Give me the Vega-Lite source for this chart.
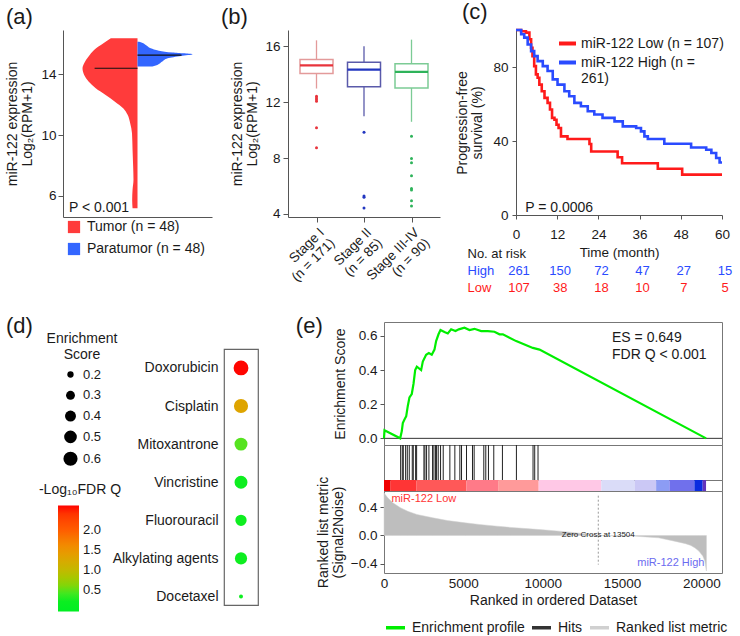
{
"$schema": "https://vega.github.io/schema/vega-lite/v6.json",
"background": "white",
"padding": {"left": 5, "top": 0, "right": 2, "bottom": 2},
"config": {
 "font": "Liberation Sans",
 "view": {"stroke": null},
 "axis": {"grid": false, "labelOverlap": false, "labelFlush": false, "labelFont": "Liberation Sans", "titleFont": "Liberation Sans", "labelFontSize": 13.5, "titleFontSize": 14, "titleFontWeight": "normal", "labelColor": "#1a1a1a", "titleColor": "#1a1a1a", "domainColor": "#555", "tickColor": "#555", "tickSize": 5, "labelPadding": 3, "titlePadding": 5, "titleLineHeight": 15},
 "legend": {"labelFont": "Liberation Sans", "titleFont": "Liberation Sans", "labelFontSize": 14, "titleFontSize": 14, "titleFontWeight": "normal", "labelColor": "#1a1a1a", "titleColor": "#1a1a1a"},
 "title": {"font": "Liberation Sans", "fontSize": 22, "fontWeight": "normal", "anchor": "start", "frame": "bounds", "color": "#1a1a1a", "offset": 1},
 "text": {"font": "Liberation Sans", "color": "#1a1a1a"}
},
"spacing": 18,
"bounds": "full",
"resolve": {"scale": {"color": "independent", "stroke": "independent", "size": "independent"}, "legend": {"color": "independent", "stroke": "independent", "size": "independent"}},
"vconcat": [
 {
  "spacing": 76, "bounds": "flush",
  "resolve": {"scale": {"color": "independent", "stroke": "independent", "size": "independent"}, "legend": {"color": "independent", "stroke": "independent", "size": "independent"}},
  "hconcat": [
   {
    "title": {"text": "(a)"},
    "width": 149, "height": 187,
    "layer": [
     {
      "data": {"values": [
       {"group": "Tumor (n = 48)", "value": 16.37, "density": -0.485},
       {"group": "Tumor (n = 48)", "value": 16.04, "density": -0.62},
       {"group": "Tumor (n = 48)", "value": 15.6, "density": -0.79},
       {"group": "Tumor (n = 48)", "value": 15.17, "density": -0.89},
       {"group": "Tumor (n = 48)", "value": 14.73, "density": -0.97},
       {"group": "Tumor (n = 48)", "value": 14.4, "density": -1.0},
       {"group": "Tumor (n = 48)", "value": 13.96, "density": -0.97},
       {"group": "Tumor (n = 48)", "value": 13.52, "density": -0.89},
       {"group": "Tumor (n = 48)", "value": 13.08, "density": -0.76},
       {"group": "Tumor (n = 48)", "value": 12.64, "density": -0.58},
       {"group": "Tumor (n = 48)", "value": 12.2, "density": -0.41},
       {"group": "Tumor (n = 48)", "value": 11.77, "density": -0.26},
       {"group": "Tumor (n = 48)", "value": 11.33, "density": -0.18},
       {"group": "Tumor (n = 48)", "value": 10.78, "density": -0.133},
       {"group": "Tumor (n = 48)", "value": 10.12, "density": -0.1},
       {"group": "Tumor (n = 48)", "value": 9.03, "density": -0.09},
       {"group": "Tumor (n = 48)", "value": 7.93, "density": -0.079},
       {"group": "Tumor (n = 48)", "value": 7.05, "density": -0.073},
       {"group": "Tumor (n = 48)", "value": 6.4, "density": -0.09},
       {"group": "Tumor (n = 48)", "value": 5.74, "density": -0.097},
       {"group": "Tumor (n = 48)", "value": 5.17, "density": -0.09},
       {"group": "Paratumor (n = 48)", "value": 16.14, "density": 0.03},
       {"group": "Paratumor (n = 48)", "value": 16.11, "density": 0.06},
       {"group": "Paratumor (n = 48)", "value": 15.93, "density": 0.15},
       {"group": "Paratumor (n = 48)", "value": 15.72, "density": 0.24},
       {"group": "Paratumor (n = 48)", "value": 15.56, "density": 0.39},
       {"group": "Paratumor (n = 48)", "value": 15.43, "density": 0.64},
       {"group": "Paratumor (n = 48)", "value": 15.32, "density": 1.0},
       {"group": "Paratumor (n = 48)", "value": 15.21, "density": 0.79},
       {"group": "Paratumor (n = 48)", "value": 15.06, "density": 0.55},
       {"group": "Paratumor (n = 48)", "value": 14.84, "density": 0.45},
       {"group": "Paratumor (n = 48)", "value": 14.62, "density": 0.36},
       {"group": "Paratumor (n = 48)", "value": 14.51, "density": 0.27}
      ]},
      "mark": {"type": "area", "orient": "horizontal", "interpolate": "monotone"},
      "encoding": {
       "y": {"field": "value", "type": "quantitative", "scale": {"domain": [4.6, 16.92], "nice": false, "zero": false}, "axis": {"values": [6, 8, 10, 12, 14, 16], "title": ["miR-122 expression", "Log₂(RPM+1)"], "titlePadding": 6, "labelPadding": 2}},
       "x": {"field": "density", "type": "quantitative", "scale": {"domain": [-1.355, 1.355], "nice": false}, "axis": {"title": null, "labels": false, "ticks": false}},
       "x2": {"datum": 0},
       "color": {"field": "group", "type": "nominal", "scale": {"domain": ["Tumor (n = 48)", "Paratumor (n = 48)"], "range": ["#FF3B3B", "#3366FF"]},
        "legend": {"title": null, "orient": "none", "legendX": 4, "legendY": 190, "symbolType": "square", "symbolSize": 150, "symbolStrokeWidth": 0, "labelOffset": 6, "rowPadding": 8, "labelFontSize": 14}}
      }
     },
     {
      "data": {"values": [{"value": 14.4, "left": -0.78, "right": 0}, {"value": 15.27, "left": 0, "right": 0.8}]},
      "mark": {"type": "rule", "color": "#111", "strokeWidth": 1.2},
      "encoding": {"y": {"field": "value", "type": "quantitative"}, "x": {"field": "left", "type": "quantitative"}, "x2": {"field": "right"}}
     },
     {
      "data": {"values": [{"label": "P < 0.001"}]},
      "mark": {"type": "text", "align": "left", "baseline": "middle", "fontSize": 14},
      "encoding": {"text": {"field": "label"}, "x": {"datum": -1.245}, "y": {"datum": 5.21}}
     }
    ]
   },
   {
    "title": {"text": "(b)", "dx": -10},
    "width": 152, "height": 187,
    "layer": [
     {
      "data": {"name": "boxes", "values": [
       {"stage": "Stage I|(n = 171)", "lower": 12.98, "q1": 14.05, "median": 14.64, "q3": 15.05, "upper": 16.43},
       {"stage": "Stage II|(n = 85)", "lower": 11.0, "q1": 13.1, "median": 14.33, "q3": 14.86, "upper": 16.0},
       {"stage": "Stage III-IV|(n = 90)", "lower": 10.6, "q1": 13.02, "median": 14.17, "q3": 14.76, "upper": 16.48}
      ]},
      "mark": {"type": "rule", "strokeWidth": 1.3},
      "encoding": {
       "x": {"field": "stage", "type": "nominal", "scale": {"type": "point", "padding": 0.6, "domain": ["Stage I|(n = 171)", "Stage II|(n = 85)", "Stage III-IV|(n = 90)"]},
        "axis": {"title": null, "labelExpr": "split(datum.label, '|')", "labelAngle": -45, "labelAlign": "right", "labelBaseline": "top", "labelFontSize": 13.5, "labelLineHeight": 15, "labelPadding": 3}},
       "y": {"field": "lower", "type": "quantitative", "scale": {"domain": [3.785, 17.17], "nice": false, "zero": false}, "axis": {"values": [4, 8, 12, 16], "title": ["miR-122 expression", "Log₂(RPM+1)"], "titlePadding": 5}},
       "y2": {"field": "upper"},
       "stroke": {"field": "stage", "type": "nominal", "scale": {"domain": ["Stage I|(n = 171)", "Stage II|(n = 85)", "Stage III-IV|(n = 90)"], "range": ["#E39A9A", "#5A5AAA", "#7CCB95"]}, "legend": null}
      }
     },
     {
      "data": {"name": "boxes"},
      "mark": {"type": "bar", "width": 33, "fill": "white", "strokeWidth": 1.5},
      "encoding": {
       "x": {"field": "stage", "type": "nominal"},
       "y": {"field": "q1", "type": "quantitative"},
       "y2": {"field": "q3"},
       "stroke": {"field": "stage", "type": "nominal", "legend": null}
      }
     },
     {
      "data": {"name": "boxes"},
      "mark": {"type": "tick", "size": 33, "thickness": 2.2, "opacity": 1},
      "encoding": {
       "x": {"field": "stage", "type": "nominal"},
       "y": {"field": "median", "type": "quantitative"},
       "color": {"field": "stage", "type": "nominal", "scale": {"domain": ["Stage I|(n = 171)", "Stage II|(n = 85)", "Stage III-IV|(n = 90)"], "range": ["#E8343C", "#2236C0", "#2EB35A"]}, "legend": null}
      }
     },
     {
      "data": {"values": [
       {"stage": "Stage I|(n = 171)", "value": 12.43}, {"stage": "Stage I|(n = 171)", "value": 12.31}, {"stage": "Stage I|(n = 171)", "value": 12.19}, {"stage": "Stage I|(n = 171)", "value": 12.07}, {"stage": "Stage I|(n = 171)", "value": 10.17}, {"stage": "Stage I|(n = 171)", "value": 8.74},
       {"stage": "Stage II|(n = 85)", "value": 9.86}, {"stage": "Stage II|(n = 85)", "value": 5.29}, {"stage": "Stage II|(n = 85)", "value": 5.19}, {"stage": "Stage II|(n = 85)", "value": 4.43},
       {"stage": "Stage III-IV|(n = 90)", "value": 9.57}, {"stage": "Stage III-IV|(n = 90)", "value": 7.98}, {"stage": "Stage III-IV|(n = 90)", "value": 7.67}, {"stage": "Stage III-IV|(n = 90)", "value": 6.74}, {"stage": "Stage III-IV|(n = 90)", "value": 5.83}, {"stage": "Stage III-IV|(n = 90)", "value": 5.71}, {"stage": "Stage III-IV|(n = 90)", "value": 4.95}, {"stage": "Stage III-IV|(n = 90)", "value": 4.57}
      ]},
      "mark": {"type": "circle", "size": 9, "opacity": 1},
      "encoding": {
       "x": {"field": "stage", "type": "nominal"},
       "y": {"field": "value", "type": "quantitative"},
       "color": {"field": "stage", "type": "nominal", "legend": null}
      }
     }
    ]
   },
   {
    "spacing": 30, "bounds": "flush",
    "resolve": {"scale": {"color": "independent"}, "legend": {"color": "independent"}},
    "vconcat": [
     {
      "title": {"text": "(c)", "dx": 6},
      "width": 206, "height": 185,
      "layer": [
       {
        "data": {"values": [
         {"group": "miR-122 Low (n = 107)", "t": 0, "s": 100}, {"group": "miR-122 Low (n = 107)", "t": 1.5, "s": 99.3}, {"group": "miR-122 Low (n = 107)", "t": 2.9, "s": 98.6}, {"group": "miR-122 Low (n = 107)", "t": 3.9, "s": 95}, {"group": "miR-122 Low (n = 107)", "t": 4.4, "s": 90.4}, {"group": "miR-122 Low (n = 107)", "t": 4.8, "s": 85.9}, {"group": "miR-122 Low (n = 107)", "t": 5.3, "s": 80.5}, {"group": "miR-122 Low (n = 107)", "t": 5.8, "s": 76}, {"group": "miR-122 Low (n = 107)", "t": 6.3, "s": 74.2}, {"group": "miR-122 Low (n = 107)", "t": 6.8, "s": 70.5}, {"group": "miR-122 Low (n = 107)", "t": 7.5, "s": 66.9}, {"group": "miR-122 Low (n = 107)", "t": 8.3, "s": 63.3}, {"group": "miR-122 Low (n = 107)", "t": 9.2, "s": 60.6}, {"group": "miR-122 Low (n = 107)", "t": 9.9, "s": 57}, {"group": "miR-122 Low (n = 107)", "t": 10.5, "s": 52.5}, {"group": "miR-122 Low (n = 107)", "t": 11.2, "s": 51.5}, {"group": "miR-122 Low (n = 107)", "t": 11.8, "s": 48.8}, {"group": "miR-122 Low (n = 107)", "t": 12.4, "s": 47}, {"group": "miR-122 Low (n = 107)", "t": 13.1, "s": 42.5}, {"group": "miR-122 Low (n = 107)", "t": 15.0, "s": 41.1}, {"group": "miR-122 Low (n = 107)", "t": 21.4, "s": 38.4}, {"group": "miR-122 Low (n = 107)", "t": 21.9, "s": 34.3}, {"group": "miR-122 Low (n = 107)", "t": 29.6, "s": 31.2}, {"group": "miR-122 Low (n = 107)", "t": 30.9, "s": 28}, {"group": "miR-122 Low (n = 107)", "t": 41.3, "s": 25}, {"group": "miR-122 Low (n = 107)", "t": 48.4, "s": 21.8}, {"group": "miR-122 Low (n = 107)", "t": 60, "s": 21.8},
         {"group": "miR-122 High (n = 261)", "t": 0, "s": 100}, {"group": "miR-122 High (n = 261)", "t": 1.5, "s": 97.7}, {"group": "miR-122 High (n = 261)", "t": 2.4, "s": 95.9}, {"group": "miR-122 High (n = 261)", "t": 3.4, "s": 92.2}, {"group": "miR-122 High (n = 261)", "t": 4.4, "s": 88.6}, {"group": "miR-122 High (n = 261)", "t": 5.3, "s": 85.9}, {"group": "miR-122 High (n = 261)", "t": 6.3, "s": 83.2}, {"group": "miR-122 High (n = 261)", "t": 7.8, "s": 80.5}, {"group": "miR-122 High (n = 261)", "t": 9.2, "s": 77.8}, {"group": "miR-122 High (n = 261)", "t": 10.7, "s": 73.3}, {"group": "miR-122 High (n = 261)", "t": 12.1, "s": 70.5}, {"group": "miR-122 High (n = 261)", "t": 14.1, "s": 66.9}, {"group": "miR-122 High (n = 261)", "t": 15.5, "s": 64.2}, {"group": "miR-122 High (n = 261)", "t": 17.0, "s": 60.6}, {"group": "miR-122 High (n = 261)", "t": 18.9, "s": 58.8}, {"group": "miR-122 High (n = 261)", "t": 20.9, "s": 56.1}, {"group": "miR-122 High (n = 261)", "t": 22.8, "s": 54.3}, {"group": "miR-122 High (n = 261)", "t": 25.2, "s": 52.5}, {"group": "miR-122 High (n = 261)", "t": 28.7, "s": 50.6}, {"group": "miR-122 High (n = 261)", "t": 31.1, "s": 47.9}, {"group": "miR-122 High (n = 261)", "t": 35, "s": 47}, {"group": "miR-122 High (n = 261)", "t": 36.4, "s": 45.2}, {"group": "miR-122 High (n = 261)", "t": 37.4, "s": 42.5}, {"group": "miR-122 High (n = 261)", "t": 38.4, "s": 41.1}, {"group": "miR-122 High (n = 261)", "t": 43.2, "s": 38.5}, {"group": "miR-122 High (n = 261)", "t": 51, "s": 36.5}, {"group": "miR-122 High (n = 261)", "t": 55.4, "s": 35.3}, {"group": "miR-122 High (n = 261)", "t": 56.9, "s": 33.5}, {"group": "miR-122 High (n = 261)", "t": 58.3, "s": 30.8}, {"group": "miR-122 High (n = 261)", "t": 59.3, "s": 28.4}, {"group": "miR-122 High (n = 261)", "t": 60, "s": 28.4}
        ]},
        "mark": {"type": "line", "interpolate": "step-after", "strokeWidth": 2.6},
        "encoding": {
         "x": {"field": "t", "type": "quantitative", "scale": {"domain": [0, 60], "nice": false}, "axis": {"values": [0, 12, 24, 36, 48, 60], "title": "Time (month)", "tickSize": 4, "labelPadding": 8, "titlePadding": 5, "titleFontSize": 13.5}},
         "y": {"field": "s", "type": "quantitative", "scale": {"domain": [0, 100], "nice": false}, "axis": {"values": [0, 10, 20, 30, 40, 50, 60, 70, 80, 90, 100], "labelExpr": "datum.value % 20 == 0 ? datum.label : ''", "title": ["Progression-free", "survival (%)"], "tickSize": 4, "labelPadding": 4, "titlePadding": 8}},
         "color": {"field": "group", "type": "nominal", "scale": {"domain": ["miR-122 Low (n = 107)", "miR-122 High (n = 261)"], "range": ["#FF1A1A", "#2A4BFF"]},
          "legend": {"title": null, "orient": "none", "legendX": 41, "legendY": 3, "symbolType": "stroke", "symbolStrokeWidth": 4, "symbolSize": 289, "labelOffset": 3, "rowPadding": -2, "labelFontSize": 14, "labelExpr": "datum.label == 'miR-122 High (n = 261)' ? ['miR-122 High (n =', '261)'] : datum.label"}}
        }
       },
       {
        "data": {"values": [{"label": "P = 0.0006"}]},
        "mark": {"type": "text", "align": "left", "baseline": "middle", "fontSize": 14},
        "encoding": {"text": {"field": "label"}, "x": {"datum": 2.7}, "y": {"datum": 3.8}}
       }
      ]
     },
     {
      "width": 206, "height": 51,
      "data": {"values": [
       {"row": "High", "t": 0, "n": 261}, {"row": "High", "t": 12, "n": 150}, {"row": "High", "t": 24, "n": 72}, {"row": "High", "t": 36, "n": 47}, {"row": "High", "t": 48, "n": 27}, {"row": "High", "t": 60, "n": 15},
       {"row": "Low", "t": 0, "n": 107}, {"row": "Low", "t": 12, "n": 38}, {"row": "Low", "t": 24, "n": 18}, {"row": "Low", "t": 36, "n": 10}, {"row": "Low", "t": 48, "n": 7}, {"row": "Low", "t": 60, "n": 5}
      ]},
      "mark": {"type": "text", "fontSize": 13, "dx": 3},
      "encoding": {
       "x": {"field": "t", "type": "quantitative", "scale": {"domain": [0, 60], "nice": false}, "axis": null},
       "y": {"field": "row", "type": "nominal", "scale": {"type": "point", "padding": 0.5, "domain": ["No. at risk", "High", "Low"]},
        "axis": {"title": null, "domain": false, "ticks": false, "tickSize": 0, "labelAlign": "left", "labelPadding": 49, "labelFontSize": 13,
         "labelColor": {"condition": [{"test": "datum.value === 'High'", "value": "#2A4BFF"}, {"test": "datum.value === 'Low'", "value": "#FF1A1A"}], "value": "#1a1a1a"}}},
       "text": {"field": "n", "type": "quantitative"},
       "color": {"field": "row", "type": "nominal", "scale": {"domain": ["High", "Low"], "range": ["#2A4BFF", "#FF1A1A"]}, "legend": null}
      }
     }
    ]
   }
  ]
 },
 {
  "spacing": 160, "bounds": "flush",
  "resolve": {"scale": {"color": "independent", "stroke": "independent", "size": "independent"}, "legend": {"color": "independent", "stroke": "independent", "size": "independent"}},
  "hconcat": [
   {
    "width": 1, "height": 10,
    "data": {"values": [{"k": 1}]},
    "mark": {"type": "point", "opacity": 0},
    "encoding": {}
   },
   {
    "title": {"text": "(d)", "dx": -33, "dy": 17},
    "spacing": 0, "bounds": "flush",
    "vconcat": [
     {
      "width": 34, "height": 27,
      "data": {"values": [{"k": 1}]},
      "mark": {"type": "point", "opacity": 0},
      "encoding": {}
     },
     {
      "width": 34, "height": 256,
      "view": {"stroke": "#666", "strokeWidth": 1.2},
      "data": {"values": [
       {"drug": "Doxorubicin", "es": 0.649, "q": 2.6},
       {"drug": "Cisplatin", "es": 0.6, "q": 1.3},
       {"drug": "Mitoxantrone", "es": 0.52, "q": 0.45},
       {"drug": "Vincristine", "es": 0.52, "q": 0.3},
       {"drug": "Fluorouracil", "es": 0.42, "q": 0.3},
       {"drug": "Alkylating agents", "es": 0.47, "q": 0.3},
       {"drug": "Docetaxel", "es": 0.14, "q": 0.3}
      ]},
      "mark": {"type": "circle", "opacity": 1},
      "encoding": {
       "y": {"field": "drug", "type": "nominal", "sort": null, "scale": {"type": "point", "padding": 0.36, "align": 0.69}, "axis": {"title": null, "domain": false, "ticks": false, "labelFontSize": 14, "labelPadding": 6}},
       "size": {"field": "es", "type": "quantitative", "scale": {"domain": [0.1, 0.65], "range": [0, 220]},
        "legend": {"title": ["Enrichment", "Score"], "values": [0.2, 0.3, 0.4, 0.5, 0.6], "format": ".1f", "orient": "none", "legendX": -177, "legendY": 9.5, "symbolFillColor": "#000", "symbolStrokeColor": "#000", "symbolStrokeWidth": 0, "symbolType": "circle", "titleAlign": "center", "titleAnchor": "middle", "titleLineHeight": 16, "labelFontSize": 13, "rowPadding": 6.8, "labelOffset": 5, "titlePadding": 6.5}},
       "color": {"field": "q", "type": "quantitative", "scale": {"domain": [-0.05, 0.35, 0.5, 1.0, 1.5, 2.0, 2.61], "range": ["#00EE22", "#10EE20", "#66DD22", "#C4B800", "#EE9400", "#FF5C00", "#FF0000"]},
        "legend": {"title": "-Log₁₀FDR Q", "values": [0.5, 1, 1.5, 2], "format": ".1f", "orient": "none", "legendX": -185, "legendY": 160.5, "direction": "vertical", "gradientLength": 106, "gradientThickness": 21, "gradientStrokeWidth": 0, "titleAlign": "center", "titleAnchor": "middle", "labelFontSize": 13, "labelOffset": 4, "titlePadding": 9}}
      }
     }
    ]
   },
   {
    "title": {"text": "(e)", "dx": -20, "dy": 17},
    "spacing": 0, "bounds": "flush",
    "vconcat": [
     {
      "width": 338, "height": 123,
      "view": {"stroke": "#777"},
      "layer": [
       {
        "data": {"values": [{"k": 0}]},
        "mark": {"type": "rule", "color": "#333", "strokeWidth": 1},
        "encoding": {"y": {"datum": 0, "type": "quantitative", "scale": {"domain": [-0.039, 0.682], "nice": false, "zero": false},
         "axis": {"values": [0, 0.1, 0.2, 0.3, 0.4, 0.5, 0.6], "labelExpr": "indexof(['0.0','0.2','0.4','0.6'], format(datum.value, '.1f')) >= 0 ? format(datum.value, '.1f') : ''", "title": "Enrichment Score", "domain": false, "tickSize": 4, "labelPadding": 3, "titlePadding": 11}}}
       },
       {
        "data": {"values": [
         {"rank": 0, "es": 0.0}, {"rank": 30, "es": 0.047}, {"rank": 1020, "es": 0.0}, {"rank": 1122, "es": 0.043}, {"rank": 1185, "es": 0.09}, {"rank": 1290, "es": 0.11}, {"rank": 1400, "es": 0.13}, {"rank": 1500, "es": 0.19}, {"rank": 1605, "es": 0.24}, {"rank": 1750, "es": 0.26}, {"rank": 1860, "es": 0.32}, {"rank": 1965, "es": 0.4}, {"rank": 2070, "es": 0.42}, {"rank": 2340, "es": 0.4}, {"rank": 2445, "es": 0.45}, {"rank": 2655, "es": 0.49}, {"rank": 2825, "es": 0.5}, {"rank": 3010, "es": 0.49}, {"rank": 3180, "es": 0.52}, {"rank": 3285, "es": 0.57}, {"rank": 3435, "es": 0.61}, {"rank": 3560, "es": 0.635}, {"rank": 3810, "es": 0.623}, {"rank": 4020, "es": 0.615}, {"rank": 4230, "es": 0.639}, {"rank": 4505, "es": 0.629}, {"rank": 4715, "es": 0.639}, {"rank": 5070, "es": 0.649}, {"rank": 5390, "es": 0.635}, {"rank": 5700, "es": 0.642}, {"rank": 6125, "es": 0.629}, {"rank": 6540, "es": 0.629}, {"rank": 6960, "es": 0.625}, {"rank": 7280, "es": 0.61}, {"rank": 7490, "es": 0.61}, {"rank": 8330, "es": 0.57}, {"rank": 9380, "es": 0.53}, {"rank": 9800, "es": 0.52}, {"rank": 20300, "es": 0.0}
        ]},
        "mark": {"type": "line", "color": "#00EE00", "strokeWidth": 2.2},
        "encoding": {"x": {"field": "rank", "type": "quantitative", "scale": {"domain": [0, 21300], "nice": false}, "axis": null}, "y": {"field": "es", "type": "quantitative"}}
       },
       {
        "data": {"values": [{"k": 0}]},
        "mark": {"type": "text", "align": "left", "baseline": "top", "fontSize": 14, "lineHeight": 17, "text": ["ES = 0.649", "FDR Q < 0.001"]},
        "encoding": {"x": {"datum": 14370}, "y": {"datum": 0.63}}
       }
      ]
     },
     {
      "width": 338, "height": 35,
      "view": {"stroke": "#777"},
      "data": {"values": [
       {"rank": 1048}, {"rank": 1153}, {"rank": 1216}, {"rank": 1363}, {"rank": 1468}, {"rank": 1593}, {"rank": 1782}, {"rank": 1845}, {"rank": 1992}, {"rank": 2055}, {"rank": 2516}, {"rank": 2579}, {"rank": 2683}, {"rank": 2830}, {"rank": 3061}, {"rank": 3145}, {"rank": 3250}, {"rank": 3313}, {"rank": 3417}, {"rank": 3564}, {"rank": 3732}, {"rank": 4151}, {"rank": 4465}, {"rank": 4780}, {"rank": 4885}, {"rank": 5199}, {"rank": 5577}, {"rank": 5681}, {"rank": 6289}, {"rank": 6415}, {"rank": 6583}, {"rank": 6918}, {"rank": 7463}, {"rank": 8344}, {"rank": 9392}, {"rank": 9497}, {"rank": 9706}
      ]},
      "mark": {"type": "rule", "color": "#222", "strokeWidth": 1},
      "encoding": {"x": {"field": "rank", "type": "quantitative", "scale": {"domain": [0, 21300], "nice": false}, "axis": null}}
     },
     {
      "width": 338, "height": 11,
      "view": {"stroke": "#777"},
      "data": {"values": [
       {"seg": 1, "start": 0, "end": 419}, {"seg": 2, "start": 419, "end": 2055}, {"seg": 3, "start": 2055, "end": 5199}, {"seg": 4, "start": 5199, "end": 7191}, {"seg": 5, "start": 7191, "end": 9748}, {"seg": 6, "start": 9748, "end": 13690}, {"seg": 7, "start": 13690, "end": 15786}, {"seg": 8, "start": 15786, "end": 17149}, {"seg": 9, "start": 17149, "end": 17987}, {"seg": 10, "start": 17987, "end": 19560}, {"seg": 11, "start": 19560, "end": 20084}, {"seg": 12, "start": 20084, "end": 20294}
      ]},
      "mark": {"type": "rect"},
      "encoding": {
       "x": {"field": "start", "type": "quantitative", "scale": {"domain": [0, 21300], "nice": false}, "axis": null},
       "x2": {"field": "end"},
       "color": {"field": "seg", "type": "ordinal", "scale": {"domain": [1, 2, 3, 4, 5, 6, 7, 8, 9, 10, 11, 12], "range": ["#F00000", "#FF3535", "#FF5858", "#FF7A88", "#FF9A9A", "#FFC8E6", "#DADCF8", "#CBC8F5", "#8C9CF4", "#7070EC", "#0A2CE0", "#6233BB"]}, "legend": null}
      }
     },
     {
      "width": 338, "height": 82,
      "view": {"stroke": "#777"},
      "layer": [
       {
        "data": {"values": [
         {"rank": 0, "metric": 0.6}, {"rank": 100, "metric": 0.57}, {"rank": 240, "metric": 0.53}, {"rank": 555, "metric": 0.46}, {"rank": 1040, "metric": 0.39}, {"rank": 1500, "metric": 0.34}, {"rank": 2070, "metric": 0.296}, {"rank": 3075, "metric": 0.249}, {"rank": 4000, "metric": 0.21}, {"rank": 5115, "metric": 0.178}, {"rank": 6000, "metric": 0.155}, {"rank": 7130, "metric": 0.131}, {"rank": 8000, "metric": 0.113}, {"rank": 9170, "metric": 0.094}, {"rank": 10000, "metric": 0.08}, {"rank": 11060, "metric": 0.061}, {"rank": 12000, "metric": 0.04}, {"rank": 13000, "metric": 0.015}, {"rank": 13504, "metric": 0.0}, {"rank": 14500, "metric": -0.004}, {"rank": 15680, "metric": -0.008}, {"rank": 16500, "metric": -0.02}, {"rank": 17300, "metric": -0.033}, {"rank": 18310, "metric": -0.08}, {"rank": 19000, "metric": -0.115}, {"rank": 19335, "metric": -0.14}, {"rank": 19600, "metric": -0.175}, {"rank": 19840, "metric": -0.22}, {"rank": 20090, "metric": -0.29}, {"rank": 20220, "metric": -0.36}, {"rank": 20300, "metric": -0.48}, {"rank": 20320, "metric": -0.5}
        ]},
        "mark": {"type": "area", "fill": "#BEBEBE", "strokeWidth": 0.5},
        "encoding": {
         "x": {"field": "rank", "type": "quantitative", "scale": {"domain": [0, 21300], "nice": false}, "axis": {"values": [0, 5000, 10000, 15000, 20000], "format": "d", "title": "Ranked in ordered Dataset", "domain": false, "ticks": false, "labelPadding": 3, "titlePadding": 4}},
         "y": {"field": "metric", "type": "quantitative", "scale": {"domain": [-0.528, 0.626], "nice": false, "zero": false}, "axis": {"values": [-0.4, 0, 0.4], "format": ".1f", "title": ["Ranked list metric", "(Signal2Noise)"], "domain": false, "tickSize": 4}},
         "y2": {"datum": 0},
         "stroke": {"datum": "Ranked list metric", "type": "nominal", "scale": {"domain": ["Enrichment profile", "Hits", "Ranked list metric"], "range": ["#00EE00", "#333333", "#D0D0D0"]},
          "legend": {"title": null, "orient": "none", "legendX": 0, "legendY": 294, "direction": "horizontal", "symbolType": "stroke", "symbolStrokeWidth": 3.5, "symbolSize": 361, "labelFontSize": 14, "columnPadding": 0, "labelOffset": 5}}
        }
       },
       {
        "data": {"values": [{"k": 0}]},
        "mark": {"type": "rule", "strokeDash": [2, 2], "color": "#999", "strokeWidth": 1},
        "encoding": {"x": {"datum": 13504}, "y": {"datum": 0.56}, "y2": {"datum": -0.41}}
       },
       {
        "data": {"values": [{"label": "Zero Cross at 13504"}]},
        "mark": {"type": "text", "fontSize": 8, "color": "#222"},
        "encoding": {"x": {"datum": 13504}, "y": {"datum": 0.01}, "text": {"field": "label"}}
       },
       {
        "data": {"values": [{"label": "miR-122 Low"}]},
        "mark": {"type": "text", "fontSize": 11, "color": "#FF3333", "align": "left"},
        "encoding": {"x": {"datum": 470}, "y": {"datum": 0.513}, "text": {"field": "label"}}
       },
       {
        "data": {"values": [{"label": "miR-122 High"}]},
        "mark": {"type": "text", "fontSize": 11, "color": "#6B6BF0", "align": "right"},
        "encoding": {"x": {"datum": 20195}, "y": {"datum": -0.39}, "text": {"field": "label"}}
       }
      ]
     }
    ]
   }
  ]
 }
]
}
